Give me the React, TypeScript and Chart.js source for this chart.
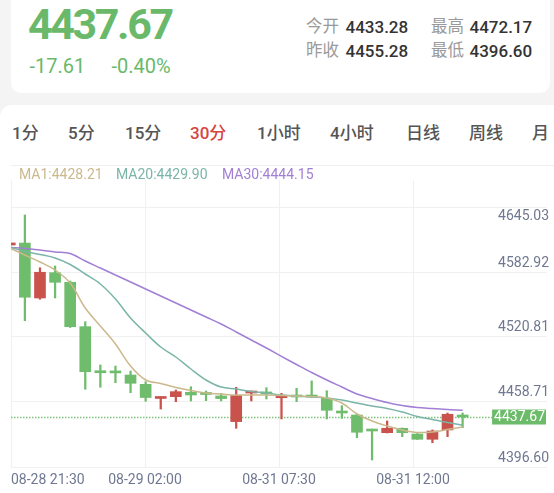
import React, { useEffect, useRef } from 'react';
import { Chart, registerables } from 'chart.js';

Chart.register(...registerables);

// ---- data ----
const TIMES = [
  '08-28 21:30', '08-28 22:00', '08-28 22:30', '08-28 23:00', '08-28 23:30',
  '08-29 00:00', '08-29 00:30', '08-29 01:00', '08-29 01:30', '08-29 02:00',
  '08-29 02:30', '08-29 03:00', '08-29 03:30', '08-29 04:00', '08-29 04:30',
  '08-31 06:00', '08-31 06:30', '08-31 07:00', '08-31 07:30', '08-31 08:00',
  '08-31 08:30', '08-31 09:00', '08-31 09:30', '08-31 10:00', '08-31 10:30',
  '08-31 11:00', '08-31 11:30', '08-31 12:00', '08-31 12:30', '08-31 13:00',
  '08-31 13:30',
];
const OPEN = [4602.0, 4603.9, 4551.4, 4575.6, 4566.4, 4524.0, 4480.5, 4480.3, 4477.8, 4468.9,
  4455.4, 4457.1, 4461.3, 4460.1, 4457.8, 4433.28, 4460.6, 4460.6, 4456.1, 4457.8,
  4457.8, 4455.6, 4442.9, 4439.6, 4425.7, 4422.7, 4426.9, 4421.4, 4416.4, 4425.3, 4439.6];
const HIGH = [4604.5, 4630.7, 4580.3, 4582.0, 4567.6, 4528.8, 4487.4, 4486.4, 4481.6, 4471.4,
  4456.8, 4463.5, 4466.6, 4462.5, 4460.3, 4466.1, 4462.5, 4465.7, 4460.3, 4465.1,
  4472.17, 4462.8, 4448.5, 4440.6, 4426.2, 4433.9, 4427.2, 4421.9, 4425.3, 4441.5, 4441.5];
const LOW = [4601.5, 4529.7, 4550.2, 4551.4, 4523.2, 4464.2, 4466.1, 4470.5, 4460.9, 4452.7,
  4445.3, 4452.3, 4453.0, 4453.3, 4453.0, 4426.9, 4453.0, 4454.9, 4435.8, 4452.3,
  4456.3, 4435.8, 4436.4, 4417.9, 4396.6, 4422.4, 4418.9, 4416.2, 4413.1, 4418.9, 4427.5];
const CLOSE = [4604.0, 4552.1, 4576.0, 4566.4, 4524.0, 4481.0, 4480.0, 4479.8, 4469.9, 4456.3,
  4456.5, 4461.9, 4458.7, 4459.2, 4455.28, 4458.2, 4461.6, 4459.7, 4457.5, 4456.8,
  4456.8, 4444.1, 4441.5, 4423.1, 4424.3, 4426.9, 4422.7, 4416.4, 4424.3, 4440.3, 4437.67];

const MA1 = [4599.17, 4592.48, 4585.79, 4578.15, 4565.72, 4541.84, 4524.64, 4507.44, 4486.42, 4473.04,
  4469.70, 4465.87, 4463.01, 4460.62, 4459.66, 4458.71, 4458.71, 4458.71, 4458.23, 4457.75,
  4457.27, 4455.84, 4451.06, 4440.55, 4433.86, 4429.09, 4425.27, 4422.88, 4423.35, 4425.74, 4428.21];
const MA20 = [4600.12, 4595.82, 4592.96, 4589.61, 4583.40, 4574.32, 4564.77, 4550.44, 4532.28, 4517.95,
  4504.57, 4495.02, 4483.55, 4473.04, 4466.35, 4464.44, 4462.05, 4460.62, 4458.71, 4457.75,
  4456.80, 4455.84, 4453.93, 4451.06, 4448.20, 4445.81, 4442.46, 4438.16, 4435.30, 4432.43, 4429.90];
const MA30 = [4599.64, 4598.69, 4597.26, 4595.34, 4593.91, 4586.74, 4580.06, 4573.37, 4566.68, 4559.99,
  4553.30, 4546.61, 4539.93, 4533.24, 4526.55, 4518.90, 4511.26, 4503.62, 4495.59, 4487.85,
  4480.21, 4473.04, 4466.35, 4459.66, 4455.36, 4451.54, 4448.67, 4446.76, 4445.81, 4444.85, 4444.15];

const LAST_PRICE = 4437.67;
const Y_MIN = 4389.91;
const Y_MAX = 4664.14;
const Y_GRID = [4389.91, 4452.02, 4514.13, 4576.23, 4638.34];
const Y_TICK_LABELS = ['4396.60', '4458.71', '4520.81', '4582.92', '4645.03'];
const X_MIN = 0.08;
const X_MAX = 35.59;

const TABS = ['1分', '5分', '15分', '30分', '1小时', '4小时', '日线', '周线', '月'];
const TAB_X = [12, 68, 125, 190, 257, 330, 406, 469, 532];

const GREEN = '#6fbc6c';
const RED = '#c9524c';
const C_MA1 = '#cbb98d';
const C_MA20 = '#7ab5a8';
const C_MA30 = '#a17fd5';
const AXIS_TXT = '#6f7891';
const GRID = '#f0f0f0';

const FONT = 'Roboto, "Noto Sans CJK SC", sans-serif';

const T = ({ x, base, size, color, weight = 400, ls = 0, children }: any) => (
  <div
    style={{
      position: 'absolute',
      left: x,
      top: base - 0.8415 * size,
      fontSize: size,
      lineHeight: 1,
      color,
      fontWeight: weight,
      letterSpacing: ls,
      whiteSpace: 'nowrap',
      fontFamily: FONT,
    }}
  >
    {children}
  </div>
);

const priceLine = {
  id: 'priceLine',
  beforeDatasetsDraw(chart: any) {
    const { ctx, chartArea, scales } = chart;
    const y = Math.round(scales.y.getPixelForValue(LAST_PRICE)) + 0.5;
    ctx.save();
    ctx.strokeStyle = '#7cc47a';
    ctx.lineWidth = 1.5;
    ctx.setLineDash([1.5, 1.5]);
    ctx.beginPath();
    ctx.moveTo(chartArea.left, y);
    ctx.lineTo(chartArea.right - 52, y);
    ctx.stroke();
    ctx.restore();
  },
  afterDatasetsDraw(chart: any) {
    const { ctx, chartArea, scales } = chart;
    const y = scales.y.getPixelForValue(LAST_PRICE);
    const text = LAST_PRICE.toFixed(2);
    ctx.save();
    ctx.font = '14px Roboto';
    const w = ctx.measureText(text).width;
    const right = chartArea.right - 1;
    const left = right - w - 3;
    ctx.fillStyle = '#6cbb69';
    ctx.fillRect(left, y - 7.5, right - left, 15);
    ctx.fillStyle = '#ffffff';
    ctx.textAlign = 'right';
    ctx.textBaseline = 'middle';
    ctx.fillText(text, right - 1, y + 0.5);
    ctx.restore();
  },
};

export default function App() {
  const ref = useRef<HTMLCanvasElement>(null);

  useEffect(() => {
    if (!ref.current) return;
    const up = (i: number) => CLOSE[i] >= OPEN[i];
    const colors = OPEN.map((_, i) => (up(i) ? RED : GREEN));
    const chart = new Chart(ref.current, {
      type: 'bar',
      data: {
        datasets: [
          {
            type: 'line',
            data: MA1.map((v, i) => ({ x: i, y: v })),
            borderColor: C_MA1,
            borderWidth: 1.5,
            pointRadius: 0,
            tension: 0.35,
            order: 0,
          } as any,
          {
            type: 'line',
            data: MA20.map((v, i) => ({ x: i, y: v })),
            borderColor: C_MA20,
            borderWidth: 1.5,
            pointRadius: 0,
            tension: 0.35,
            order: 0,
          },
          {
            type: 'line',
            data: MA30.map((v, i) => ({ x: i, y: v })),
            borderColor: C_MA30,
            borderWidth: 1.5,
            pointRadius: 0,
            tension: 0.35,
            order: 0,
          },
          {
            type: 'bar',
            data: OPEN.map((o, i) => ({ x: i, y: [o, CLOSE[i]] })),
            backgroundColor: colors,
            borderWidth: 0,
            barThickness: 11,
            minBarLength: 2,
            grouped: false,
            order: 1,
          },
          {
            type: 'bar',
            data: LOW.map((l, i) => ({ x: i, y: [l, HIGH[i]] })),
            backgroundColor: colors,
            borderWidth: 0,
            barThickness: 1.6,
            grouped: false,
            order: 2,
          },
        ],
      } as any,
      options: {
        animation: false,
        responsive: false,
        events: [],
        layout: { padding: { top: 15, left: 11, right: 3, bottom: 4 } },
        plugins: { legend: { display: false }, tooltip: { enabled: false } },
        scales: {
          x: {
            type: 'linear',
            min: X_MIN,
            max: X_MAX,
            bounds: 'data',
            offset: false,
            border: { display: false },
            grid: {
              offset: false,
              drawTicks: false,
              color: (c: any) => (c.index === 4 ? 'rgba(0,0,0,0)' : GRID),
            },
            afterBuildTicks: (s: any) => {
              s.ticks = [0, 1, 2, 3, 4].map((k) => ({ value: X_MIN + (k * (X_MAX - X_MIN)) / 4 }));
            },
            afterFit: (s: any) => {
              s.height = 22;
              s.paddingLeft = 0;
              s.paddingRight = 0;
            },
            ticks: {
              autoSkip: false,
              maxRotation: 0,
              align: 'inner',
              padding: 5,
              color: AXIS_TXT,
              font: { family: 'Roboto', size: 14 },
              callback: (v: any, i: number) => (i < 4 ? TIMES[Math.round(Number(v))] : ''),
            },
          },
          y: {
            type: 'linear',
            position: 'right',
            min: Y_MIN,
            max: Y_MAX,
            bounds: 'data',
            beginAtZero: false,
            border: { display: false },
            grid: { drawTicks: false, color: GRID },
            afterBuildTicks: (s: any) => {
              s.ticks = Y_GRID.map((v) => ({ value: v }));
            },
            afterFit: (s: any) => {
              s.paddingTop = 0;
              s.paddingBottom = 0;
            },
            ticks: {
              mirror: true,
              padding: 2,
              color: AXIS_TXT,
              font: { family: 'Roboto', size: 14, lineHeight: 18 / 14 },
              callback: (_v: any, i: number) =>
                i === 4 ? ['', Y_TICK_LABELS[i]] : [Y_TICK_LABELS[i], ''],
            },
          },
        },
      } as any,
      plugins: [priceLine],
    });
    return () => chart.destroy();
  }, []);

  return (
    <div
      style={{
        position: 'fixed',
        left: 0,
        top: 0,
        width: 554,
        height: 493,
        background: '#f4f4f4',
        overflow: 'hidden',
        fontFamily: FONT,
      }}
    >
      <div style={{ position: 'absolute', left: 11, top: -12, width: 539, height: 105, background: '#fff', borderRadius: 10 }} />
      <T x={28} base={39.3} size={43} color="#6ab96a" weight={700} ls={-2.4}>4437.67</T>
      <T x={29.5} base={72.7} size={20} color="#6ab96a">-17.61</T>
      <T x={111.5} base={72.7} size={20} color="#6ab96a">-0.40%</T>

      <T x={306} base={33.3} size={16.5} color="#9a9a9a">今开</T>
      <T x={345.5} base={33.3} size={17} color="#333" weight={500}>4433.28</T>
      <T x={431} base={33.3} size={16.5} color="#9a9a9a">最高</T>
      <T x={469.5} base={33.3} size={17} color="#333" weight={500}>4472.17</T>
      <T x={306} base={57.3} size={16.5} color="#9a9a9a">昨收</T>
      <T x={345.5} base={57.3} size={17} color="#333" weight={500}>4455.28</T>
      <T x={431} base={57.3} size={16.5} color="#9a9a9a">最低</T>
      <T x={469.5} base={57.3} size={17} color="#333" weight={500}>4396.60</T>

      <div style={{ position: 'absolute', left: 0, top: 105, width: 600, height: 420, background: '#fff', borderRadius: 12 }} />
      {TABS.map((t, i) => (
        <T key={t} x={TAB_X[i]} base={139.5} size={17} color={t === '30分' ? '#d4463e' : '#555'} weight={500}>
          {t}
        </T>
      ))}
      <div style={{ position: 'absolute', left: 11, top: 165, width: 543, height: 1, background: '#f0f0f0' }} />

      <canvas ref={ref} width={554} height={328} style={{ position: 'absolute', left: 0, top: 165, width: 554, height: 328 }} />

      <T x={19} base={178.3} size={14} color={C_MA1}>MA1:4428.21</T>
      <T x={116} base={178.3} size={14} color={C_MA20}>MA20:4429.90</T>
      <T x={222} base={178.3} size={14} color={C_MA30}>MA30:4444.15</T>
    </div>
  );
}
